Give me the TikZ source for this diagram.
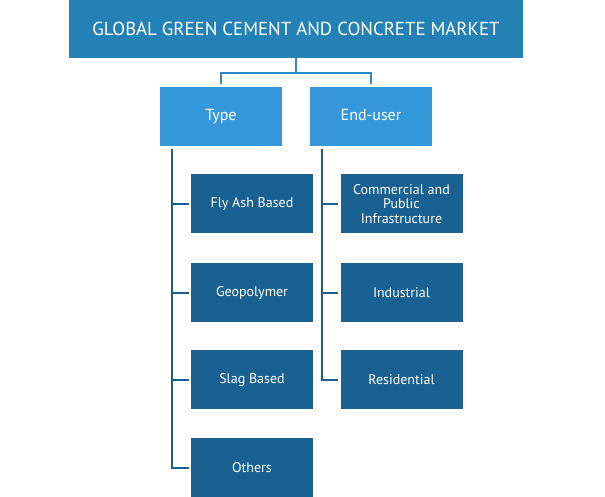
\documentclass[tikz,border=0pt]{standalone}
\usepackage{fontspec}
\setmainfont{PT Sans}
\definecolor{titleblue}{RGB}{36,129,182}
\definecolor{headblue}{RGB}{52,152,219}
\definecolor{itemblue}{RGB}{25,97,145}
\definecolor{topblue}{RGB}{43,138,200}
\definecolor{spineblue}{RGB}{27,92,148}
\begin{document}
\begin{tikzpicture}[x=1pt,y=-1pt,
    titlebox/.style={fill=titleblue,text=white,minimum width=454pt,minimum height=58pt,font=\fontsize{18.8}{22}\selectfont},
    headbox/.style={fill=headblue,text=white,minimum width=122pt,minimum height=59pt,text height=11.5pt,text depth=3.5pt,font=\fontsize{16}{19}\selectfont},
    itembox/.style={fill=itemblue,text=white,minimum width=122pt,minimum height=59pt,align=center,font=\fontsize{14}{14.7}\selectfont},
    topline/.style={draw=topblue,line width=2pt},
    spine/.style={draw=spineblue,line width=2pt}]
        \useasboundingbox (0,0) rectangle (605,497);
        \node[titlebox] (market) at (296,29) {GLOBAL GREEN CEMENT AND CONCRETE MARKET};
        \node[headbox] (type) at (221,116.5) {Type};
        \node[headbox] (enduser) at (371,116.5) {End-user};
        \node[itembox] (flyash) at (252,204) {Fly Ash Based};
        \node[itembox] (geopoly) at (252,292.5) {Geopolymer};
        \node[itembox] (slag) at (252,379.5) {Slag Based};
        \node[itembox] (others) at (252,467.5) {Others};
        \node[itembox] (commercial) at (401.5,204) {Commercial and\\Public\\Infrastructure};
        \node[itembox] (industrial) at (401.5,292.5) {Industrial};
        \node[itembox] (residential) at (401.5,379.5) {Residential};
        \draw[topline] (market.south) -- ++(0,14.5) -| ([yshift=3pt]type.north);
        \draw[topline] (market.south) -- ++(0,14.5) -| ([yshift=3pt]enduser.north);
        \coordinate (tspine) at ([xshift=12pt,yshift=-3pt]type.south west);
        \coordinate (espine) at ([xshift=12pt,yshift=-3pt]enduser.south west);
        \draw[spine] (tspine) |- ([xshift=-2pt]others.west);
        \draw[spine] (espine) |- ([xshift=-2pt]residential.west);
        \foreach \n in {flyash,geopoly,slag}
            \draw[spine] (tspine |- \n.west) -- ([xshift=-2pt]\n.west);
        \foreach \n in {commercial,industrial}
            \draw[spine] (espine |- \n.west) -- ([xshift=-2pt]\n.west);
    \end{tikzpicture}
\end{document}
